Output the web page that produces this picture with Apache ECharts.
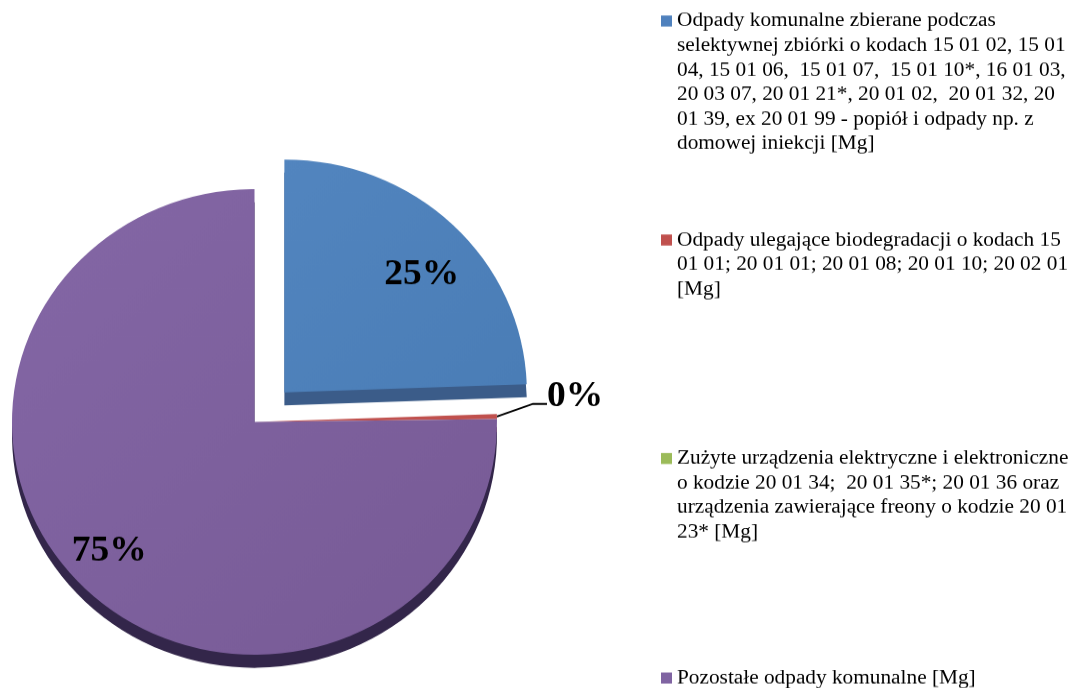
<!DOCTYPE html>
<html><head><meta charset="utf-8">
<style>html,body{margin:0;padding:0;background:#fff;overflow:hidden}#c{width:1070px;height:716.67px;transform-origin:0 0;transform:scaleY(0.96)}</style>
<script src="https://cdn.jsdelivr.net/npm/echarts@6/dist/echarts.min.js"></script>
</head><body><div id="c"></div>
<script>
const categories = [
 "Odpady komunalne zbierane podczas\nselektywnej zbiórki o kodach 15 01 02, 15 01\n04, 15 01 06,  15 01 07,  15 01 10*, 16 01 03,\n20 03 07, 20 01 21*, 20 01 02,  20 01 32, 20\n01 39, ex 20 01 99 - popiół i odpady np. z\ndomowej iniekcji [Mg]",
 "Odpady ulegające biodegradacji o kodach 15\n01 01; 20 01 01; 20 01 08; 20 01 10; 20 02 01\n[Mg]",
 "Zużyte urządzenia elektryczne i elektroniczne\no kodzie 20 01 34;  20 01 35*; 20 01 36 oraz\nurządzenia zawierające freony o kodzie 20 01\n23* [Mg]",
 "Pozostałe odpady komunalne [Mg]"
];
const values = [24.45, 0.35, 0, 75.2];
const legendColors = ['#4f81bd','#c0504d','#9bbb59','#8064a2'];
const sideColors = ['#3b5c89','#7a3835','#6c8340','#33264a'];
const faceColors = [['#5285bf','#4a7db6'],['#c0504d','#c0504d'],['#9bbb59','#9bbb59'],['#8467a6','#775a95']];
const legendFirstLineY = [21, 240, 458.5, 678];
const K = 0.96, L = 24.5/K, FONT = '"Liberation Serif"';
const Y = y => y/K;
const TXT = {fontFamily:FONT,fontWeight:'bold',fontSize:37.5,color:'#000'};
const labelOpts = [
 {show:true,position:'inside'},
 {show:true,position:'outside',formatter:'{t|{d}%}\n{s| }',rich:{t:{...TXT,lineHeight:40},s:{fontSize:10,lineHeight:17}}},
 {show:false},
 {show:true,position:'inside'}
];
const labelShift = [{dx:51,dy:Y(-32)},null,null,{dx:-58,dy:Y(44)}];
const chart = echarts.init(document.getElementById('c'),null,{renderer:'canvas'});
const CX = 254.5, CY = Y(422), R = 242.5, OFF = 43;
chart.setOption({
 animation:false,
 backgroundColor:'#fff',
 legend: categories.map((name,i)=>{
   const n = name.split('\n').length;
   return {
     show:true, left:661, top:Y(legendFirstLineY[i])-(n-1)*L-L/2, padding:0, orient:'vertical',
     itemWidth:11,itemHeight:Y(11),selectedMode:false,
     formatter:t=>'\n'.repeat(n-1)+t,
     data:[{name,icon:'rect',itemStyle:{color:legendColors[i]}}],
     textStyle:{fontFamily:FONT,fontSize:21.3,color:'#000',lineHeight:L}
   };
 }),
 series:[
  {type:'pie',z:2,center:[CX,CY],radius:[0,R],startAngle:90,clockwise:true,percentPrecision:0,
   selectedMode:'multiple',selectedOffset:OFF,avoidLabelOverlap:false,minShowLabelAngle:0,
   stillShowZeroSum:true,emphasis:{disabled:true},
   label:{formatter:'{d}%',...TXT},
   labelLine:{show:true,smooth:false,length:36,length2:14,lineStyle:{color:'#000',width:2}},
   labelLayout:p=> p.dataIndex===1 ? {x:547,y:Y(405),align:'left',verticalAlign:'middle'} : (labelShift[p.dataIndex]||{}),
   data:categories.map((name,i)=>({
     name,value:values[i],selected:i===0,
     label:labelOpts[i],
     labelLine:{show:i===1},
     itemStyle:{color:new echarts.graphic.LinearGradient(0,0,1,1,[{offset:0,color:faceColors[i][0]},{offset:1,color:faceColors[i][1]}])}
   }))
  },
  {type:'pie',z:1,silent:true,center:[CX,CY+Y(13)],radius:[0,R],startAngle:90,clockwise:true,
   selectedMode:'multiple',selectedOffset:OFF,emphasis:{disabled:true},
   label:{show:false},labelLine:{show:false},
   data:categories.map((name,i)=>({name,value:values[i],selected:i===0,itemStyle:{color:sideColors[i]}}))
  }
 ]
});
</script></body></html>
